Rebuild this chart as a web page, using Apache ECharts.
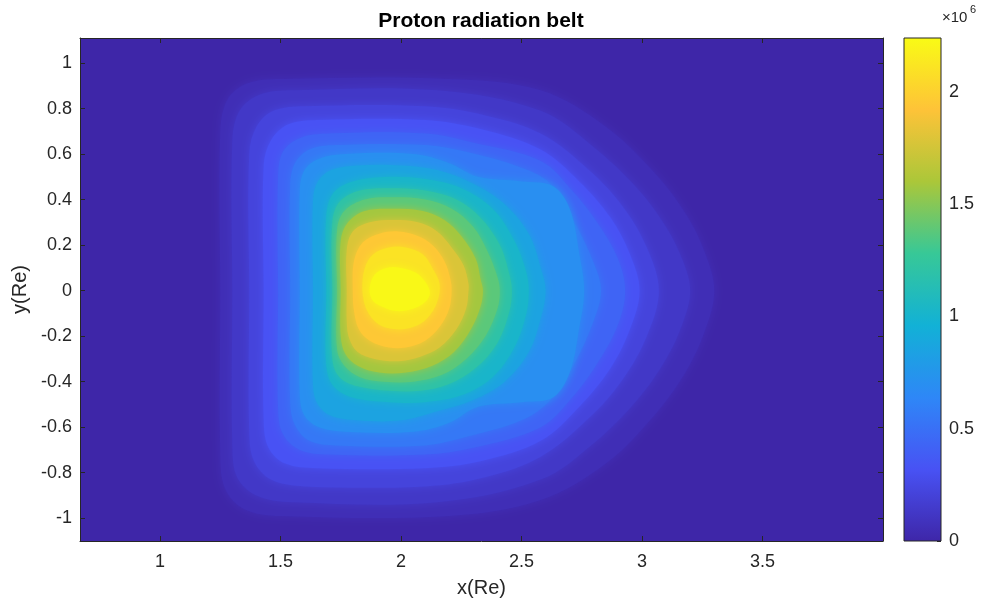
<!DOCTYPE html>
<html>
<head>
<meta charset="utf-8">
<title>Proton radiation belt</title>
<script src="https://cdn.jsdelivr.net/npm/echarts@6/dist/echarts.min.js"></script>
<style>
  html, body { margin: 0; padding: 0; background: #fff; }
  #chart { width: 987px; height: 602px; }
</style>
</head>
<body>
<div id="chart"></div>
<script>
// axis extents and tick labels
const xRange = [0.668, 4.0]
const yRange = [-1.1, 1.11]
const xTicks = [1, 1.5, 2, 2.5, 3, 3.5]
const yTicks = [-1, -0.8, -0.6, -0.4, -0.2, 0, 0.2, 0.4, 0.6, 0.8, 1]
const cbMax = 2.24e6
const cbTicks = [0, 0.5e6, 1e6, 1.5e6, 2e6]

// MATLAB parula (8 stops)
const parula = ['#3E26A8', '#4852F4', '#2E87F7', '#12B1D6', '#37C897', '#ABC739', '#FEC338', '#F9FB15']

// filled contours, outermost first: flux inside each band (x1e6)
const bandValues = [0.06, 0.13, 0.22, 0.32, 0.43, 0.55, 0.7, 0.85, 1.02, 1.2, 1.38, 1.58, 1.78, 1.95, 2.1, 2.22]

// band outlines as [x(Re), y(Re)]
const c005 = [[1.25,0],[1.25,0.7],[1.28,0.84],[1.36,0.91],[1.5,0.93],[2.2,0.93],[2.58,0.88],[2.85,0.72],[3.05,0.52],[3.18,0.34],[3.26,0.17],[3.3,0],[3.26,-0.18],[3.18,-0.36],[3.05,-0.55],[2.85,-0.76],[2.58,-0.92],[2.2,-0.99],[1.5,-0.99],[1.35,-0.96],[1.27,-0.87],[1.25,-0.72]]
const c010 = [[1.3,0],[1.3,0.66],[1.33,0.79],[1.41,0.86],[1.55,0.88],[2.15,0.88],[2.58,0.79],[2.8,0.63],[2.98,0.45],[3.1,0.28],[3.17,0.13],[3.2,0],[3.17,-0.14],[3.1,-0.3],[2.98,-0.48],[2.8,-0.67],[2.58,-0.83],[2.15,-0.93],[1.55,-0.93],[1.4,-0.9],[1.32,-0.82],[1.3,-0.68]]
const c020 = [[1.37,0],[1.37,0.6],[1.4,0.72],[1.47,0.79],[1.6,0.81],[2.1,0.81],[2.35,0.77],[2.58,0.69],[2.78,0.53],[2.92,0.37],[3.02,0.19],[3.07,0],[3.02,-0.2],[2.92,-0.39],[2.78,-0.56],[2.58,-0.73],[2.35,-0.82],[2.1,-0.86],[1.6,-0.86],[1.46,-0.83],[1.39,-0.75],[1.37,-0.62]]
const c030 = [[1.43,0],[1.43,0.55],[1.46,0.66],[1.53,0.73],[1.65,0.75],[2.1,0.75],[2.33,0.71],[2.58,0.62],[2.74,0.48],[2.87,0.32],[2.95,0.16],[2.99,0],[2.95,-0.17],[2.87,-0.34],[2.74,-0.51],[2.58,-0.66],[2.33,-0.75],[2.1,-0.78],[1.65,-0.78],[1.52,-0.76],[1.45,-0.69],[1.43,-0.57]]
const c040 = [[1.49,0],[1.49,0.5],[1.51,0.61],[1.58,0.67],[1.7,0.69],[2.1,0.69],[2.3,0.65],[2.58,0.57],[2.71,0.44],[2.82,0.29],[2.9,0.14],[2.93,0],[2.9,-0.15],[2.82,-0.31],[2.71,-0.47],[2.58,-0.6],[2.3,-0.69],[2.1,-0.72],[1.7,-0.72],[1.58,-0.7],[1.51,-0.63],[1.49,-0.52]]
const c050 = [[1.54,0],[1.54,0.46],[1.56,0.56],[1.62,0.62],[1.73,0.64],[2.1,0.64],[2.27,0.61],[2.5,0.54],[2.62,0.47],[2.72,0.3],[2.8,0.12],[2.83,0],[2.8,-0.13],[2.72,-0.32],[2.62,-0.48],[2.5,-0.57],[2.28,-0.64],[2.1,-0.68],[1.73,-0.68],[1.62,-0.66],[1.56,-0.59],[1.54,-0.49]]
const c065 = [[1.58,0],[1.58,0.44],[1.6,0.53],[1.66,0.58],[1.77,0.6],[2.05,0.6],[2.2,0.56],[2.32,0.5],[2.5,0.48],[2.63,0.46],[2.7,0.36],[2.74,0.16],[2.76,0],[2.74,-0.16],[2.7,-0.36],[2.63,-0.47],[2.5,-0.49],[2.32,-0.51],[2.2,-0.58],[2.05,-0.62],[1.77,-0.62],[1.66,-0.6],[1.6,-0.55],[1.58,-0.46]]
const c080 = [[1.635,0],[1.635,0.4],[1.655,0.48],[1.71,0.53],[1.82,0.55],[2.0,0.55],[2.15,0.53],[2.3,0.47],[2.43,0.38],[2.53,0.25],[2.58,0.1],[2.6,0],[2.58,-0.12],[2.53,-0.27],[2.43,-0.4],[2.3,-0.48],[2.15,-0.53],[2.0,-0.57],[1.82,-0.57],[1.71,-0.55],[1.655,-0.5],[1.635,-0.42]]
const c100 = [[1.69,0],[1.69,0.33],[1.72,0.43],[1.8,0.48],[1.95,0.5],[2.1,0.49],[2.25,0.45],[2.38,0.36],[2.47,0.22],[2.52,0.08],[2.53,0],[2.52,-0.1],[2.47,-0.25],[2.38,-0.38],[2.25,-0.46],[2.1,-0.49],[1.95,-0.49],[1.8,-0.47],[1.72,-0.42],[1.69,-0.33]]
const c115 = [[1.715,0],[1.715,0.3],[1.745,0.39],[1.83,0.44],[1.97,0.45],[2.1,0.44],[2.23,0.4],[2.33,0.32],[2.41,0.2],[2.45,0.07],[2.46,0],[2.45,-0.09],[2.4,-0.23],[2.31,-0.34],[2.2,-0.41],[2.08,-0.44],[1.95,-0.44],[1.82,-0.42],[1.745,-0.38],[1.715,-0.3]]
const c130 = [[1.735,0],[1.735,0.27],[1.765,0.35],[1.85,0.4],[1.97,0.41],[2.1,0.4],[2.21,0.36],[2.3,0.28],[2.36,0.17],[2.4,0.06],[2.41,0],[2.4,-0.08],[2.35,-0.2],[2.27,-0.3],[2.17,-0.37],[2.05,-0.4],[1.93,-0.4],[1.83,-0.38],[1.765,-0.33],[1.735,-0.26]]
const c150 = [[1.75,0],[1.75,0.22],[1.78,0.3],[1.85,0.35],[1.97,0.36],[2.09,0.35],[2.18,0.31],[2.25,0.24],[2.31,0.14],[2.33,0.05],[2.34,0],[2.33,-0.07],[2.29,-0.17],[2.22,-0.27],[2.13,-0.33],[2.02,-0.36],[1.91,-0.36],[1.82,-0.33],[1.77,-0.28],[1.75,-0.2]]
const c170 = [[1.775,0],[1.775,0.18],[1.8,0.26],[1.87,0.3],[1.97,0.31],[2.07,0.3],[2.15,0.26],[2.21,0.19],[2.26,0.11],[2.28,0.03],[2.28,0],[2.27,-0.08],[2.23,-0.17],[2.16,-0.25],[2.08,-0.29],[1.99,-0.31],[1.89,-0.3],[1.82,-0.27],[1.785,-0.21],[1.775,-0.14]]
const c190 = [[1.8,0],[1.805,0.13],[1.84,0.21],[1.91,0.25],[1.99,0.26],[2.07,0.24],[2.13,0.2],[2.18,0.13],[2.205,0.05],[2.21,0],[2.2,-0.08],[2.16,-0.16],[2.1,-0.22],[2.02,-0.25],[1.95,-0.25],[1.87,-0.22],[1.825,-0.17],[1.805,-0.09]]
const c205 = [[1.84,0],[1.85,0.1],[1.885,0.16],[1.95,0.19],[2.02,0.19],[2.09,0.16],[2.13,0.1],[2.16,0.03],[2.15,-0.05],[2.11,-0.12],[2.05,-0.16],[1.98,-0.17],[1.91,-0.15],[1.86,-0.09]]
const c218 = [[1.87,0.01],[1.89,0.07],[1.94,0.1],[2.0,0.1],[2.06,0.08],[2.1,0.04],[2.12,-0.01],[2.1,-0.05],[2.05,-0.08],[1.98,-0.09],[1.92,-0.07],[1.88,-0.04]]

const contours = [c005, c010, c020, c030, c040, c050, c065, c080, c100, c115, c130, c150, c170, c190, c205, c218]

const FONT = '"Liberation Sans", Arial, Helvetica, sans-serif'
const INK = '#262626'

const chart = echarts.init(document.getElementById('chart'), null, { renderer: 'canvas' })

const bandData = bandValues.map((v, i) => [i, v * 1e6])

function renderBand(params, api) {
  const pts = contours[api.value(0)].map(p => api.coord(p))
  const color = api.visual('color')
  return {
    type: 'polygon',
    shape: { points: pts, smooth: 0.35 },
    style: { fill: color, shadowBlur: 8, shadowColor: color }
  }
}

function renderColorbar(params, api) {
  const p0 = api.coord([0, 0])
  const p1 = api.coord([1, cbMax])
  const stops = parula.map((c, i) => ({ offset: i / (parula.length - 1), color: c }))
  return {
    type: 'rect',
    shape: { x: p0[0], y: p1[1], width: p1[0] - p0[0], height: p0[1] - p1[1] },
    style: {
      fill: new echarts.graphic.LinearGradient(0, 1, 0, 0, stops),
      stroke: INK,
      lineWidth: 1
    }
  }
}

const tickStyle = { color: INK, width: 1 }
const fmt = v => String(Math.round(v * 10) / 10)

const option = {
  animation: false,
  textStyle: { fontFamily: FONT },
  title: {
    text: 'Proton radiation belt',
    left: 476,
    top: 6,
    textAlign: 'center',
    textStyle: { fontFamily: FONT, fontSize: 21, fontWeight: 'bold', color: '#000' }
  },
  grid: [
    { left: 80, top: 38, width: 803, height: 503, containLabel: false, outerBoundsMode: 'none',
      show: true, backgroundColor: parula[0], borderWidth: 0 },
    { left: 904, top: 38, width: 37, height: 503, containLabel: false, outerBoundsMode: 'none' }
  ],
  xAxis: [
    {
      type: 'value', gridIndex: 0, position: 'bottom', min: xRange[0], max: xRange[1],
      name: 'x(Re)', nameLocation: 'middle', nameGap: 37,
      nameTextStyle: { fontFamily: FONT, fontSize: 20, color: INK },
      axisLine: { show: true, onZero: false, lineStyle: tickStyle },
      axisTick: { show: true, inside: true, length: 5, customValues: xTicks, lineStyle: tickStyle },
      axisLabel: { customValues: xTicks, margin: 12, fontSize: 18, color: INK, fontFamily: FONT, formatter: fmt },
      splitLine: { show: false }
    },
    {
      type: 'value', gridIndex: 0, position: 'top', min: xRange[0], max: xRange[1],
      axisLine: { show: true, onZero: false, lineStyle: tickStyle },
      axisTick: { show: true, inside: true, length: 5, customValues: xTicks, lineStyle: tickStyle },
      axisLabel: { show: false },
      splitLine: { show: false }
    },
    { type: 'value', gridIndex: 1, min: 0, max: 1, show: false }
  ],
  yAxis: [
    {
      type: 'value', gridIndex: 0, position: 'left', min: yRange[0], max: yRange[1],
      name: 'y(Re)', nameLocation: 'middle', nameGap: 44, nameRotate: 90,
      nameTextStyle: { fontFamily: FONT, fontSize: 20, color: INK },
      axisLine: { show: true, onZero: false, lineStyle: tickStyle },
      axisTick: { show: true, inside: true, length: 5, customValues: yTicks, lineStyle: tickStyle },
      axisLabel: { customValues: yTicks, margin: 8, fontSize: 18, color: INK, fontFamily: FONT, formatter: fmt },
      splitLine: { show: false }
    },
    {
      type: 'value', gridIndex: 0, position: 'right', min: yRange[0], max: yRange[1],
      axisLine: { show: true, onZero: false, lineStyle: tickStyle },
      axisTick: { show: true, inside: true, length: 5, customValues: yTicks, lineStyle: tickStyle },
      axisLabel: { show: false },
      splitLine: { show: false }
    },
    {
      type: 'value', gridIndex: 1, position: 'right', min: 0, max: cbMax,
      axisLine: { show: false, onZero: false },
      axisTick: { show: true, inside: true, length: 4, customValues: cbTicks, lineStyle: tickStyle },
      axisLabel: { customValues: cbTicks, margin: 8, fontSize: 18, color: INK, fontFamily: FONT,
        formatter: v => String(Math.round(v / 1e5) / 10) },
      splitLine: { show: false }
    }
  ],
  visualMap: {
    type: 'continuous',
    show: false,
    seriesIndex: 0,
    dimension: 1,
    min: 0,
    max: cbMax,
    inRange: { color: parula }
  },
  series: [
    {
      type: 'custom',
      xAxisIndex: 0,
      yAxisIndex: 0,
      clip: true,
      renderItem: renderBand,
      data: bandData,
      z: 2
    },
    {
      type: 'custom',
      xAxisIndex: 2,
      yAxisIndex: 2,
      renderItem: renderColorbar,
      data: [[0, cbMax]],
      z: 1
    }
  ],
  graphic: [
    { type: 'text', left: 942, top: 10, style: { text: '×10', fontFamily: FONT, fontSize: 15, fill: INK } },
    { type: 'text', left: 970, top: 4, style: { text: '6', fontFamily: FONT, fontSize: 11, fill: INK } }
  ]
}

chart.setOption(option)
</script>
</body>
</html>
